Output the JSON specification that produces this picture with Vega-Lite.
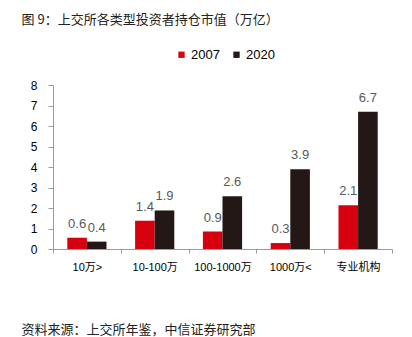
{
  "$schema": "https://vega.github.io/schema/vega-lite/v6.json",
  "width": 339,
  "height": 164,
  "autosize": {"type": "none"},
  "padding": {"left": 53, "top": 85, "right": 20, "bottom": 88},
  "background": "#ffffff",
  "config": {
    "view": {"stroke": null},
    "font": "Liberation Sans, Noto Sans CJK SC, sans-serif"
  },
  "data": {
    "values": [
      {"cat": "10万>", "year": "2007", "value": 0.55, "label": "0.6"},
      {"cat": "10万>", "year": "2020", "value": 0.36, "label": "0.4"},
      {"cat": "10-100万", "year": "2007", "value": 1.38, "label": "1.4"},
      {"cat": "10-100万", "year": "2020", "value": 1.88, "label": "1.9"},
      {"cat": "100-1000万", "year": "2007", "value": 0.85, "label": "0.9"},
      {"cat": "100-1000万", "year": "2020", "value": 2.57, "label": "2.6"},
      {"cat": "1000万<", "year": "2007", "value": 0.29, "label": "0.3"},
      {"cat": "1000万<", "year": "2020", "value": 3.89, "label": "3.9"},
      {"cat": "专业机构", "year": "2007", "value": 2.13, "label": "2.1"},
      {"cat": "专业机构", "year": "2020", "value": 6.7, "label": "6.7"}
    ]
  },
  "encoding": {
    "x": {
      "field": "cat",
      "type": "nominal",
      "sort": null,
      "scale": {"paddingInner": 0, "paddingOuter": 0},
      "axis": {
        "title": "资料来源：上交所年鉴，中信证券研究部",
        "titleFont": "Noto Sans CJK SC",
        "titleFontSize": 13,
        "titleFontWeight": "normal",
        "titleColor": "#222222",
        "titleAlign": "left",
        "titleBaseline": "alphabetic",
        "titleX": -32,
        "titleY": 84,
        "tickBand": "extent",
        "labelAngle": 0,
        "labelFontSize": 11,
        "labelColor": "#000000",
        "labelPadding": 8,
        "tickSize": 4,
        "tickColor": "#9a9a9a",
        "domainColor": "#9a9a9a",
        "grid": false
      }
    },
    "xOffset": {
      "field": "year",
      "type": "nominal",
      "scale": {"paddingInner": 0, "paddingOuter": 0.73}
    },
    "y": {
      "field": "value",
      "type": "quantitative",
      "scale": {"domain": [0, 8], "nice": false},
      "axis": {
        "values": [0, 1, 2, 3, 4, 5, 6, 7, 8],
        "grid": false,
        "title": "图 9：上交所各类型投资者持仓市值（万亿）",
        "titleFont": "Noto Sans CJK SC",
        "titleFontSize": 13,
        "titleFontWeight": "normal",
        "titleColor": "#222222",
        "titleAngle": 0,
        "titleAlign": "left",
        "titleBaseline": "alphabetic",
        "titleX": -32,
        "titleY": -62,
        "labelFontSize": 12,
        "labelColor": "#000000",
        "labelPadding": 11,
        "tickSize": 5,
        "tickColor": "#9a9a9a",
        "domainColor": "#9a9a9a"
      }
    }
  },
  "layer": [
    {
      "mark": {"type": "bar"},
      "encoding": {
        "color": {
          "field": "year",
          "type": "nominal",
          "scale": {"domain": ["2007", "2020"], "range": ["#d7000f", "#231815"]},
          "legend": {
            "title": null,
            "orient": "none",
            "direction": "horizontal",
            "legendX": 122,
            "legendY": -37,
            "symbolType": "square",
            "symbolSize": 40,
            "symbolStrokeWidth": 0,
            "labelFontSize": 13,
            "labelColor": "#000000",
            "labelOffset": 3,
            "columnPadding": 10
          }
        }
      }
    },
    {
      "mark": {"type": "text", "baseline": "alphabetic", "dy": -10, "fontSize": 13, "color": "#595959"},
      "encoding": {
        "text": {"field": "label"}
      }
    }
  ]
}
